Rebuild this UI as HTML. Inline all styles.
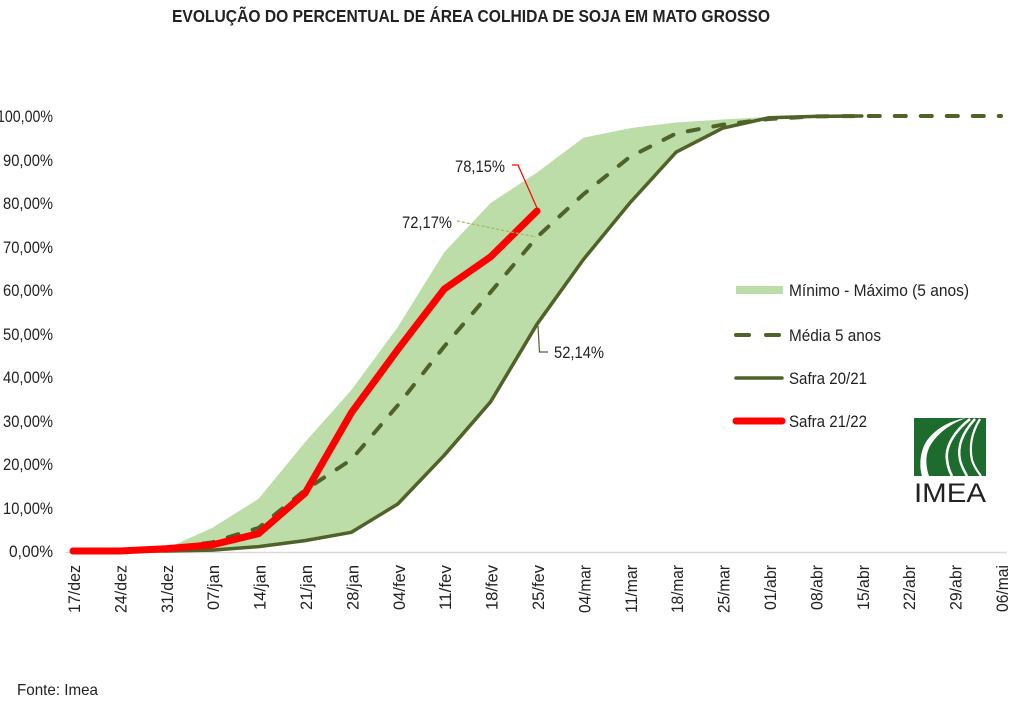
<!DOCTYPE html>
<html>
<head>
<meta charset="utf-8">
<style>
html,body{margin:0;padding:0;background:#fff;}
svg{display:block;}
text{font-family:"Liberation Sans",sans-serif;fill:#222;}
</style>
</head>
<body>
<svg width="1024" height="708" viewBox="0 0 1024 708" xmlns="http://www.w3.org/2000/svg">
<rect width="1024" height="708" fill="#fff"/>
<!-- Title -->
<text x="172" y="22" font-size="17.5" font-weight="bold" textLength="598" lengthAdjust="spacingAndGlyphs" fill="#111">EVOLUÇÃO DO PERCENTUAL DE ÁREA COLHIDA DE SOJA EM MATO GROSSO</text>

<!-- Y labels -->
<g font-size="16.5" text-anchor="end">
<text x="53" y="122" textLength="56" lengthAdjust="spacingAndGlyphs">100,00%</text>
<text x="53" y="166" textLength="50" lengthAdjust="spacingAndGlyphs">90,00%</text>
<text x="53" y="209" textLength="50" lengthAdjust="spacingAndGlyphs">80,00%</text>
<text x="53" y="253" textLength="50" lengthAdjust="spacingAndGlyphs">70,00%</text>
<text x="53" y="296" textLength="50" lengthAdjust="spacingAndGlyphs">60,00%</text>
<text x="53" y="340" textLength="50" lengthAdjust="spacingAndGlyphs">50,00%</text>
<text x="53" y="383" textLength="50" lengthAdjust="spacingAndGlyphs">40,00%</text>
<text x="53" y="427" textLength="50" lengthAdjust="spacingAndGlyphs">30,00%</text>
<text x="53" y="470" textLength="50" lengthAdjust="spacingAndGlyphs">20,00%</text>
<text x="53" y="514" textLength="50" lengthAdjust="spacingAndGlyphs">10,00%</text>
<text x="53" y="557" textLength="44" lengthAdjust="spacingAndGlyphs">0,00%</text>
</g>

<!-- X axis line -->
<line x1="66" y1="552.5" x2="1007" y2="552.5" stroke="#d9d9d9" stroke-width="1.5"/>

<!-- X labels -->
<g font-size="16.5" text-anchor="end">
<text transform="translate(80,565) rotate(-90)" textLength="48" lengthAdjust="spacingAndGlyphs">17/dez</text>
<text transform="translate(126.4,565) rotate(-90)" textLength="48" lengthAdjust="spacingAndGlyphs">24/dez</text>
<text transform="translate(172.8,565) rotate(-90)" textLength="48" lengthAdjust="spacingAndGlyphs">31/dez</text>
<text transform="translate(219.2,565) rotate(-90)" textLength="45" lengthAdjust="spacingAndGlyphs">07/jan</text>
<text transform="translate(265.6,565) rotate(-90)" textLength="45" lengthAdjust="spacingAndGlyphs">14/jan</text>
<text transform="translate(312,565) rotate(-90)" textLength="45" lengthAdjust="spacingAndGlyphs">21/jan</text>
<text transform="translate(358.4,565) rotate(-90)" textLength="45" lengthAdjust="spacingAndGlyphs">28/jan</text>
<text transform="translate(404.8,565) rotate(-90)" textLength="45" lengthAdjust="spacingAndGlyphs">04/fev</text>
<text transform="translate(451.2,565) rotate(-90)" textLength="45" lengthAdjust="spacingAndGlyphs">11/fev</text>
<text transform="translate(497.6,565) rotate(-90)" textLength="45" lengthAdjust="spacingAndGlyphs">18/fev</text>
<text transform="translate(544,565) rotate(-90)" textLength="45" lengthAdjust="spacingAndGlyphs">25/fev</text>
<text transform="translate(590.4,565) rotate(-90)" textLength="48" lengthAdjust="spacingAndGlyphs">04/mar</text>
<text transform="translate(636.8,565) rotate(-90)" textLength="48" lengthAdjust="spacingAndGlyphs">11/mar</text>
<text transform="translate(683.2,565) rotate(-90)" textLength="48" lengthAdjust="spacingAndGlyphs">18/mar</text>
<text transform="translate(729.6,565) rotate(-90)" textLength="48" lengthAdjust="spacingAndGlyphs">25/mar</text>
<text transform="translate(776,565) rotate(-90)" textLength="45" lengthAdjust="spacingAndGlyphs">01/abr</text>
<text transform="translate(822.4,565) rotate(-90)" textLength="45" lengthAdjust="spacingAndGlyphs">08/abr</text>
<text transform="translate(868.8,565) rotate(-90)" textLength="45" lengthAdjust="spacingAndGlyphs">15/abr</text>
<text transform="translate(915.2,565) rotate(-90)" textLength="45" lengthAdjust="spacingAndGlyphs">22/abr</text>
<text transform="translate(961.6,565) rotate(-90)" textLength="45" lengthAdjust="spacingAndGlyphs">29/abr</text>
<text transform="translate(1008,565) rotate(-90)" textLength="47" lengthAdjust="spacingAndGlyphs">06/mai</text>
</g>

<!-- Band min-max -->
<polygon fill="#bcdca8" points="73,551 119.4,551 165.8,548.8 212.2,527.9 258.6,498.8 305,442.3 351.4,390 397.8,327 444.2,252.2 490.6,203 537,172.5 583.4,137.8 629.8,128.2 676.2,122.5 722.6,119.5 769,116.9 815.4,116 861.8,116 861.8,116 815.4,116.4 769,117.7 722.6,128.2 676.2,152.1 629.8,203 583.4,259.5 537,324.2 490.6,401.8 444.2,455.3 397.8,504 351.4,532.3 305,540.6 258.6,546.6 212.2,550.1 165.8,551 119.4,551 73,551"/>

<!-- Safra 20/21 -->
<polyline fill="none" stroke="#4f6228" stroke-width="3.5" stroke-linejoin="round" stroke-linecap="round" points="73,551 119.4,551 165.8,551 212.2,550.1 258.6,546.6 305,540.6 351.4,532.3 397.8,504 444.2,455.3 490.6,401.8 537,324.2 583.4,259.5 629.8,203 676.2,152.1 722.6,128.2 769,117.7 815.4,116.4 861.8,116"/>

<!-- Média 5 anos -->
<polyline fill="none" stroke="#4f6228" stroke-width="4" stroke-linejoin="round" stroke-linecap="round" stroke-dasharray="11 15" points="73,551 119.4,551 165.8,548.8 212.2,542.3 258.6,527.9 305,490.1 351.4,459.6 397.8,405.3 444.2,346.5 490.6,292.2 537,237.1 583.4,194.3 629.8,156.9 676.2,133.4 722.6,124.7 769,119 815.4,116.4 861.8,116 908.2,116 954.6,116 1001,116"/>

<!-- Safra 21/22 -->
<polyline fill="none" stroke="#ff0000" stroke-width="7" stroke-linejoin="round" stroke-linecap="round" points="73,551 119.4,551 165.8,548.8 212.2,544.9 258.6,533.6 305,493.2 351.4,412.7 397.8,349.6 444.2,289.1 490.6,256.9 537,211"/>

<!-- Annotations -->
<polyline fill="none" stroke="#ff0000" stroke-width="1.2" points="512,165 518,165 537,208"/>
<line x1="457" y1="221" x2="536" y2="237" stroke="#9bbb59" stroke-width="1.2" stroke-dasharray="3 2"/>
<polyline fill="none" stroke="#4f6228" stroke-width="1.2" points="538,326 539.5,352 548,352"/>
<g font-size="16.5">
<text x="455" y="172" textLength="50" lengthAdjust="spacingAndGlyphs">78,15%</text>
<text x="402" y="228" textLength="50" lengthAdjust="spacingAndGlyphs">72,17%</text>
<text x="554" y="358" textLength="50" lengthAdjust="spacingAndGlyphs">52,14%</text>
</g>

<!-- Legend -->
<rect x="736" y="286" width="47" height="8" fill="#bcdca8"/>
<line x1="736" y1="335" x2="782" y2="335" stroke="#4f6228" stroke-width="4" stroke-linecap="round" stroke-dasharray="13 17"/>
<line x1="736" y1="378" x2="782" y2="378" stroke="#4f6228" stroke-width="3.5" stroke-linecap="round"/>
<line x1="736" y1="421" x2="782" y2="421" stroke="#ff0000" stroke-width="7" stroke-linecap="round"/>
<g font-size="16.5">
<text x="789" y="296" textLength="180" lengthAdjust="spacingAndGlyphs">Mínimo - Máximo (5 anos)</text>
<text x="789" y="341" textLength="92" lengthAdjust="spacingAndGlyphs">Média 5 anos</text>
<text x="789" y="384" textLength="78" lengthAdjust="spacingAndGlyphs">Safra 20/21</text>
<text x="789" y="427" textLength="78" lengthAdjust="spacingAndGlyphs">Safra 21/22</text>
</g>

<!-- IMEA logo -->
<rect x="914" y="418" width="72" height="58" fill="#1e6b2e"/>
<path d="M966,418 C950,424 936,434 929,448 C925,457 926,467 929,476 L922,476 C919,466 920,452 926,442 C934,430 948,421 966,418 Z" fill="#fff"/>
<path d="M970,419 C956,430 945,445 947,460 C948,468 950,472 952,476" fill="none" stroke="#fff" stroke-width="2.6"/>
<path d="M975,419 C963,432 957,446 960,460 C962,468 965,472 967,476" fill="none" stroke="#fff" stroke-width="2.4"/>
<path d="M980,419 C972,432 969,446 972,460 C974,467 978,472 981,476" fill="none" stroke="#fff" stroke-width="2.2"/>
<text x="914" y="502" font-size="27" textLength="72" lengthAdjust="spacingAndGlyphs" fill="#222">IMEA</text>

<!-- Source -->
<text x="17" y="695" font-size="16" textLength="81" lengthAdjust="spacingAndGlyphs">Fonte: Imea</text>
</svg>
</body>
</html>
